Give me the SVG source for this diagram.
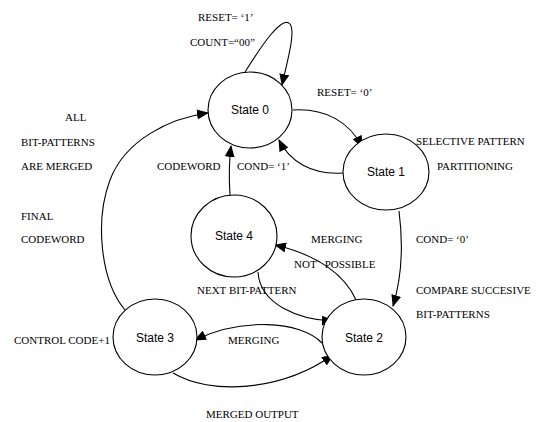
<svg xmlns="http://www.w3.org/2000/svg" width="536" height="422" viewBox="0 0 536 422">
<style>
.n{fill:#fff;stroke:#000;stroke-width:1.1}
.c{fill:none;stroke:#000;stroke-width:1.1}
.l{font-family:"Liberation Serif",serif;font-size:11px;fill:#000}
.s{font-family:"Liberation Sans",Arial,sans-serif;font-size:12px;fill:#000;text-anchor:middle}
</style>
<defs>
<marker id="a" viewBox="0 0 12 10" refX="11" refY="5" markerWidth="12" markerHeight="10" markerUnits="userSpaceOnUse" orient="auto">
<path d="M0,0 L12,5 L0,10 Z" fill="#000"/>
</marker>
</defs>
<rect width="536" height="422" fill="#fff"/>
<g id="connectors">
<path class="c" d="M245,72 C262,45 282,15 290,24 C296,32 287,62 282,85" marker-end="url(#a)"/>
<path class="c" d="M293,110 C325,108 350,122 362,147" marker-end="url(#a)"/>
<path class="c" d="M343,173 C312,175 290,162 279,140" marker-end="url(#a)"/>
<path class="c" d="M230,195 C229,180 229,162 231,146" marker-end="url(#a)"/>
<path class="c" d="M399,211 C404,250 401,280 393,306" marker-end="url(#a)"/>
<path class="c" d="M356,300 C345,275 318,255 275,245" marker-end="url(#a)"/>
<path class="c" d="M258,272 C260,305 300,320 333,321" marker-end="url(#a)"/>
<path class="c" d="M322,343 C300,320 240,318 195,340" marker-end="url(#a)"/>
<path class="c" d="M173,373 C210,395 280,392 333,355" marker-end="url(#a)"/>
<path class="c" d="M125,310 C100,280 95,220 110,180 C125,140 170,118 208,113" marker-end="url(#a)"/>
</g>
<g id="state0"><ellipse class="n" cx="250" cy="110" rx="42" ry="38"/><text class="s" x="250" y="114">State 0</text></g>
<g id="state1"><ellipse class="n" cx="386" cy="172" rx="43" ry="38"/><text class="s" x="386" y="176">State 1</text></g>
<g id="state4"><ellipse class="n" cx="234" cy="236" rx="43" ry="41"/><text class="s" x="234" y="240">State 4</text></g>
<g id="state2"><ellipse class="n" cx="364" cy="337" rx="42" ry="38"/><text class="s" x="364" y="342">State 2</text></g>
<g id="state3"><ellipse class="n" cx="155" cy="337" rx="42" ry="38"/><text class="s" x="155" y="342">State 3</text></g>
<g id="labels">
<text class="l" x="198" y="21">RESET= ‘1’</text>
<text class="l" x="190" y="46">COUNT=“00”</text>
<text class="l" x="317" y="96">RESET= ‘0’</text>
<text class="l" x="65" y="121">ALL</text>
<text class="l" x="21" y="146">BIT-PATTERNS</text>
<text class="l" x="21" y="170">ARE MERGED</text>
<text class="l" x="21" y="220">FINAL</text>
<text class="l" x="21" y="243">CODEWORD</text>
<text class="l" x="157" y="170">CODEWORD</text>
<text class="l" x="237" y="170">COND= ‘1’</text>
<text class="l" x="416" y="145">SELECTIVE PATTERN</text>
<text class="l" x="437" y="170">PARTITIONING</text>
<text class="l" x="311" y="243">MERGING</text>
<text class="l" x="294" y="268" xml:space="preserve">NOT   POSSIBLE</text>
<text class="l" x="416" y="243">COND= ‘0’</text>
<text class="l" x="197" y="294">NEXT BIT-PATTERN</text>
<text class="l" x="416" y="294">COMPARE SUCCESIVE</text>
<text class="l" x="416" y="318">BIT-PATTERNS</text>
<text class="l" x="14" y="344">CONTROL CODE+1</text>
<text class="l" x="228" y="344">MERGING</text>
<text class="l" x="206" y="418">MERGED OUTPUT</text>
</g>
</svg>
